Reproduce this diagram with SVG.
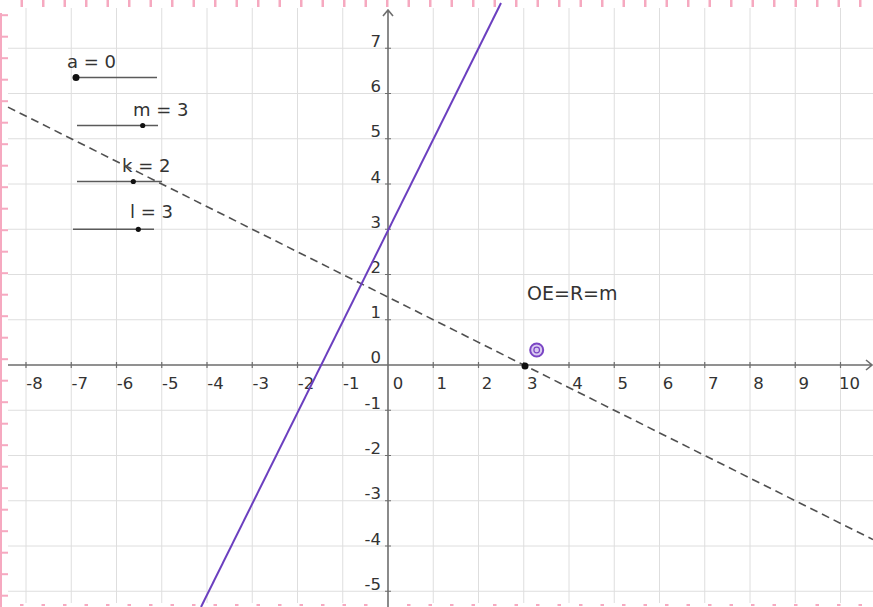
<svg xmlns="http://www.w3.org/2000/svg" width="873" height="607" viewBox="0 0 873 607">
<style>
.grid{stroke:#dedede;stroke-width:1;fill:none}
.axis{stroke:#6e6e6e;stroke-width:1.6;fill:none}
.tick{stroke:#6e6e6e;stroke-width:1.2}
.lbl{font-family:"DejaVu Sans","Liberation Sans",sans-serif;font-size:16.5px;fill:#333}
.xl{text-anchor:middle}
.yl{text-anchor:end}
.big{font-family:"DejaVu Sans","Liberation Sans",sans-serif;font-size:18px;fill:#333}
.pink{fill:#f6a9c0}
.slider{stroke:#5a5a5a;stroke-width:1.5}
.dot{fill:#111}
</style>
<rect width="873" height="607" fill="#fff"/>
<g id="border">
<rect class="pink" x="0" y="13" width="2" height="594"/>
<g id="topmarks">
<rect class="pink" x="20.5" y="0" width="2.5" height="7"/><rect class="pink" x="42" y="0" width="2.5" height="7"/><rect class="pink" x="63.5" y="0" width="2.5" height="7"/><rect class="pink" x="85" y="0" width="2.5" height="7"/><rect class="pink" x="106.5" y="0" width="2.5" height="7"/><rect class="pink" x="128" y="0" width="2.5" height="7"/><rect class="pink" x="149.5" y="0" width="2.5" height="7"/><rect class="pink" x="171" y="0" width="2.5" height="7"/><rect class="pink" x="192.5" y="0" width="2.5" height="7"/><rect class="pink" x="214" y="0" width="2.5" height="7"/><rect class="pink" x="235.5" y="0" width="2.5" height="7"/><rect class="pink" x="257" y="0" width="2.5" height="7"/><rect class="pink" x="278.5" y="0" width="2.5" height="7"/><rect class="pink" x="300" y="0" width="2.5" height="7"/><rect class="pink" x="321.5" y="0" width="2.5" height="7"/><rect class="pink" x="343" y="0" width="2.5" height="7"/><rect class="pink" x="364.5" y="0" width="2.5" height="7"/><rect class="pink" x="386" y="0" width="2.5" height="7"/><rect class="pink" x="407.5" y="0" width="2.5" height="7"/><rect class="pink" x="429" y="0" width="2.5" height="7"/><rect class="pink" x="450.5" y="0" width="2.5" height="7"/><rect class="pink" x="472" y="0" width="2.5" height="7"/><rect class="pink" x="493.5" y="0" width="2.5" height="7"/><rect class="pink" x="515" y="0" width="2.5" height="7"/><rect class="pink" x="536.5" y="0" width="2.5" height="7"/><rect class="pink" x="558" y="0" width="2.5" height="7"/><rect class="pink" x="579.5" y="0" width="2.5" height="7"/><rect class="pink" x="601" y="0" width="2.5" height="7"/><rect class="pink" x="622.5" y="0" width="2.5" height="7"/><rect class="pink" x="644" y="0" width="2.5" height="7"/><rect class="pink" x="665.5" y="0" width="2.5" height="7"/><rect class="pink" x="687" y="0" width="2.5" height="7"/><rect class="pink" x="708.5" y="0" width="2.5" height="7"/><rect class="pink" x="730" y="0" width="2.5" height="7"/><rect class="pink" x="751.5" y="0" width="2.5" height="7"/><rect class="pink" x="773" y="0" width="2.5" height="7"/><rect class="pink" x="794.5" y="0" width="2.5" height="7"/><rect class="pink" x="816" y="0" width="2.5" height="7"/><rect class="pink" x="837.5" y="0" width="2.5" height="7"/><rect class="pink" x="859" y="0" width="2.5" height="7"/>
</g>
<g id="leftmarks">
<rect class="pink" x="0" y="14.2" width="8" height="2"/><rect class="pink" x="0" y="35.7" width="8" height="2"/><rect class="pink" x="0" y="57.2" width="8" height="2"/><rect class="pink" x="0" y="78.7" width="8" height="2"/><rect class="pink" x="0" y="100.2" width="8" height="2"/><rect class="pink" x="0" y="121.7" width="8" height="2"/><rect class="pink" x="0" y="143.2" width="8" height="2"/><rect class="pink" x="0" y="164.7" width="8" height="2"/><rect class="pink" x="0" y="186.2" width="8" height="2"/><rect class="pink" x="0" y="207.7" width="8" height="2"/><rect class="pink" x="0" y="229.2" width="8" height="2"/><rect class="pink" x="0" y="250.7" width="8" height="2"/><rect class="pink" x="0" y="272.2" width="8" height="2"/><rect class="pink" x="0" y="293.7" width="8" height="2"/><rect class="pink" x="0" y="315.2" width="8" height="2"/><rect class="pink" x="0" y="336.7" width="8" height="2"/><rect class="pink" x="0" y="358.2" width="8" height="2"/><rect class="pink" x="0" y="379.7" width="8" height="2"/><rect class="pink" x="0" y="401.2" width="8" height="2"/><rect class="pink" x="0" y="422.7" width="8" height="2"/><rect class="pink" x="0" y="444.2" width="8" height="2"/><rect class="pink" x="0" y="465.7" width="8" height="2"/><rect class="pink" x="0" y="487.2" width="8" height="2"/><rect class="pink" x="0" y="508.7" width="8" height="2"/><rect class="pink" x="0" y="530.2" width="8" height="2"/><rect class="pink" x="0" y="551.7" width="8" height="2"/><rect class="pink" x="0" y="573.2" width="8" height="2"/><rect class="pink" x="0" y="594.7" width="8" height="2"/>
</g>
<g id="bottommarks">
<rect class="pink" x="20" y="604" width="3.5" height="2"/><rect class="pink" x="41.5" y="604" width="3.5" height="2"/><rect class="pink" x="63" y="604" width="3.5" height="2"/><rect class="pink" x="84.5" y="604" width="3.5" height="2"/><rect class="pink" x="106" y="604" width="3.5" height="2"/><rect class="pink" x="127.5" y="604" width="3.5" height="2"/><rect class="pink" x="149" y="604" width="3.5" height="2"/><rect class="pink" x="170.5" y="604" width="3.5" height="2"/><rect class="pink" x="192" y="604" width="3.5" height="2"/><rect class="pink" x="213.5" y="604" width="3.5" height="2"/><rect class="pink" x="235" y="604" width="3.5" height="2"/><rect class="pink" x="256.5" y="604" width="3.5" height="2"/><rect class="pink" x="278" y="604" width="3.5" height="2"/><rect class="pink" x="299.5" y="604" width="3.5" height="2"/><rect class="pink" x="321" y="604" width="3.5" height="2"/><rect class="pink" x="342.5" y="604" width="3.5" height="2"/><rect class="pink" x="364" y="604" width="3.5" height="2"/><rect class="pink" x="407" y="604" width="3.5" height="2"/><rect class="pink" x="428.5" y="604" width="3.5" height="2"/><rect class="pink" x="450" y="604" width="3.5" height="2"/><rect class="pink" x="471.5" y="604" width="3.5" height="2"/><rect class="pink" x="493" y="604" width="3.5" height="2"/><rect class="pink" x="514.5" y="604" width="3.5" height="2"/><rect class="pink" x="536" y="604" width="3.5" height="2"/><rect class="pink" x="557.5" y="604" width="3.5" height="2"/><rect class="pink" x="579" y="604" width="3.5" height="2"/><rect class="pink" x="600.5" y="604" width="3.5" height="2"/><rect class="pink" x="622" y="604" width="3.5" height="2"/><rect class="pink" x="643.5" y="604" width="3.5" height="2"/><rect class="pink" x="665" y="604" width="3.5" height="2"/><rect class="pink" x="686.5" y="604" width="3.5" height="2"/><rect class="pink" x="708" y="604" width="3.5" height="2"/><rect class="pink" x="729.5" y="604" width="3.5" height="2"/><rect class="pink" x="751" y="604" width="3.5" height="2"/><rect class="pink" x="772.5" y="604" width="3.5" height="2"/><rect class="pink" x="794" y="604" width="3.5" height="2"/><rect class="pink" x="815.5" y="604" width="3.5" height="2"/><rect class="pink" x="837" y="604" width="3.5" height="2"/><rect class="pink" x="858.5" y="604" width="3.5" height="2"/>
</g>
</g>
<g id="grid">
<path class="grid" d="M26 8V603M71.25 8V603M116.5 8V603M161.75 8V603M207 8V603M252.25 8V603M297.5 8V603M342.75 8V603M433.25 8V603M478.5 8V603M523.75 8V603M569 8V603M614.25 8V603M659.5 8V603M704.75 8V603M750 8V603M795.25 8V603M840.5 8V603"/>
<path class="grid" d="M8 48.25H873M8 93.5H873M8 138.75H873M8 184H873M8 229.25H873M8 274.5H873M8 319.75H873M8 410.25H873M8 455.5H873M8 500.75H873M8 546H873M8 591.25H873"/>
</g>
<g id="axes">
<path class="axis" d="M8 365H871M866 360L872 365L866 370"/>
<path class="axis" d="M388 607V10M383 16L388 10L393 16"/>
<path class="tick" d="M26 362V368M71.25 362V368M116.5 362V368M161.75 362V368M207 362V368M252.25 362V368M297.5 362V368M342.75 362V368M433.25 362V368M478.5 362V368M523.75 362V368M569 362V368M614.25 362V368M659.5 362V368M704.75 362V368M750 362V368M795.25 362V368M840.5 362V368"/>
<path class="tick" d="M385 48.25H391M385 93.5H391M385 138.75H391M385 184H391M385 229.25H391M385 274.5H391M385 319.75H391M385 410.25H391M385 455.5H391M385 500.75H391M385 546H391M385 591.25H391"/>
</g>
<g id="xlabels" class="lbl xl">
<text x="34.5" y="389">-8</text><text x="79.75" y="389">-7</text><text x="125" y="389">-6</text><text x="170.25" y="389">-5</text><text x="215.5" y="389">-4</text><text x="260.75" y="389">-3</text><text x="306" y="389">-2</text><text x="351.25" y="389">-1</text><text x="398" y="389">0</text><text x="441.75" y="389">1</text><text x="487" y="389">2</text><text x="532.25" y="389">3</text><text x="577.5" y="389">4</text><text x="622.75" y="389">5</text><text x="668" y="389">6</text><text x="713.25" y="389">7</text><text x="758.5" y="389">8</text><text x="803.75" y="389">9</text><text x="849.5" y="389">10</text>
</g>
<g id="ylabels" class="lbl yl">
<text x="381" y="46.5">7</text><text x="381" y="92">6</text><text x="381" y="137.25">5</text><text x="381" y="182.5">4</text><text x="381" y="227.75">3</text><text x="381" y="273">2</text><text x="381" y="318.25">1</text><text x="381" y="363">0</text><text x="381" y="408.75">-1</text><text x="381" y="454">-2</text><text x="381" y="499.25">-3</text><text x="381" y="544.5">-4</text><text x="381" y="589.75">-5</text>
</g>
<g id="sliders">
<g id="slider-a"><line class="slider" x1="76" y1="77.5" x2="157" y2="77.5"/><circle class="dot" cx="76" cy="77.5" r="3.5"/><text class="big" x="67" y="68">a = 0</text></g>
<g id="slider-m"><line class="slider" x1="77" y1="125.5" x2="158" y2="125.5"/><circle class="dot" cx="142.7" cy="125.5" r="2.6"/><text class="big" x="133" y="116">m = 3</text></g>
<g id="slider-k"><line class="slider" x1="77" y1="181.5" x2="162" y2="181.5"/><circle class="dot" cx="133.3" cy="181.5" r="2.6"/><text class="big" x="122" y="172">k = 2</text></g>
<g id="slider-l"><line class="slider" x1="73" y1="229.3" x2="154" y2="229.3"/><circle class="dot" cx="138.3" cy="229.3" r="2.6"/><text class="big" x="130" y="218">l = 3</text></g>
</g>
<g id="lines">
<line id="dashed-line" x1="8" y1="107.1" x2="873" y2="539.6" stroke="#505050" stroke-width="1.6" stroke-dasharray="8 5"/>
<line id="purple-line" x1="201" y1="607" x2="501" y2="3" stroke="#6b3fbf" stroke-width="2"/>
</g>
<g id="point-E"><circle cx="525" cy="366" r="3.5" fill="#111"/></g>
<g id="point-O"><circle cx="536.7" cy="350" r="6.5" fill="#d9c9f0" stroke="#7a45c4" stroke-width="2"/><circle cx="536.7" cy="350" r="2.8" fill="none" stroke="#7a45c4" stroke-width="1.2"/></g>
<text id="label-OE" class="big" x="527" y="300" style="font-size:19px">OE=R=m</text>
</svg>
